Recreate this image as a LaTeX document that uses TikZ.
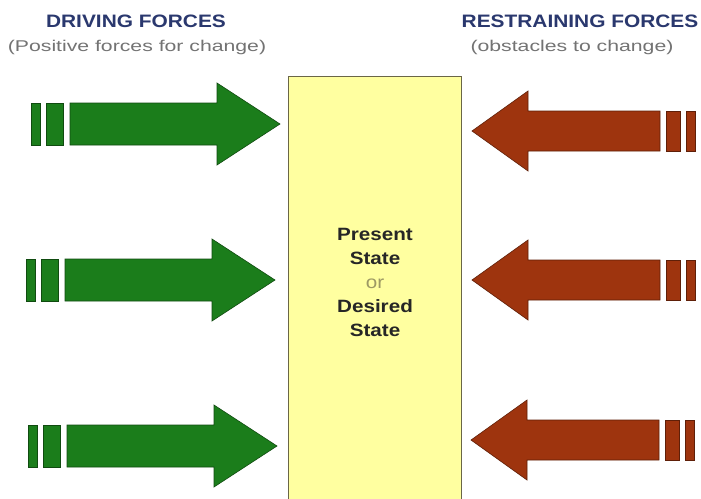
\documentclass[tikz,border=0pt]{standalone}
\usepackage{fontspec}
\setmainfont[FakeStretch=1.16]{Liberation Sans}
\newfontfamily\widefont[FakeStretch=1.36]{Liberation Sans}
\usetikzlibrary{positioning}
\definecolor{drivegreen}{RGB}{27,125,27}
\definecolor{restrainred}{RGB}{158,52,14}
\definecolor{stateyellow}{RGB}{255,255,160}
\definecolor{headnavy}{RGB}{42,56,110}
\tikzset{
    % Colors
    driving color/.style={fill=drivegreen,draw=drivegreen!60!black},
    restraining color/.style={fill=restrainred,draw=restrainred!60!black},
    %
    % Shapes
    force/.style={line width=.6pt,line join=miter},
    state box/.style={fill=stateyellow,draw=black!45!yellow!60!black,line width=.8pt},
    %
    % Texts
    heading/.style={text=headnavy,font=\fontsize{18}{20}\selectfont\bfseries},
    subheading/.style={text=black!55,font=\widefont\fontsize{15.6}{18}\selectfont},
    state text/.style={align=center,text=black!85,font=\fontsize{17.8}{24}\selectfont\bfseries}
}

\begin{document}
\begin{tikzpicture}[x=1pt,y=-1pt]
        \useasboundingbox[fill=white] (0,0) rectangle (701,498);
        \draw[state box] (288,76) rectangle (461,510);
        \node[state text] (state) at (375,282) {Present\\State\\{\mdseries\color{black!40!yellow!60!gray}or}\\Desired\\State};
        % driving forces
        \node[heading] (drivehead) at (136,21) {DRIVING FORCES};
        \node[subheading] (drivesub) at (137,47) {(Positive forces for change)};
        \foreach \y/\dx in {124/3,280/-2,446/0}{
            \begin{scope}[shift={(\dx,\y)}]
                \filldraw[driving color,force] (28,-21) rectangle (37,21) (43,-21) rectangle (60,21);
                \filldraw[driving color,force] (67,-21) -- (214,-21) -- (214,-41) -- (277,0) -- (214,41) -- (214,21) -- (67,21) -- cycle;
            \end{scope}
        }
        % restraining forces
        \node[heading] (resthead) at (580,21) {RESTRAINING FORCES};
        \node[subheading] (restsub) at (572,47) {(obstacles to change)};
        \foreach \y/\dx in {131/1,280/1,440/0}{
            \begin{scope}[shift={(\dx,\y)}]
                \filldraw[restraining color,force] (665,-20) rectangle (679,20) (685,-20) rectangle (694,20);
                \filldraw[restraining color,force] (659,-20) -- (527,-20) -- (527,-40) -- (471,0) -- (527,40) -- (527,20) -- (659,20) -- cycle;
            \end{scope}
        }
    \end{tikzpicture}
\end{document}
